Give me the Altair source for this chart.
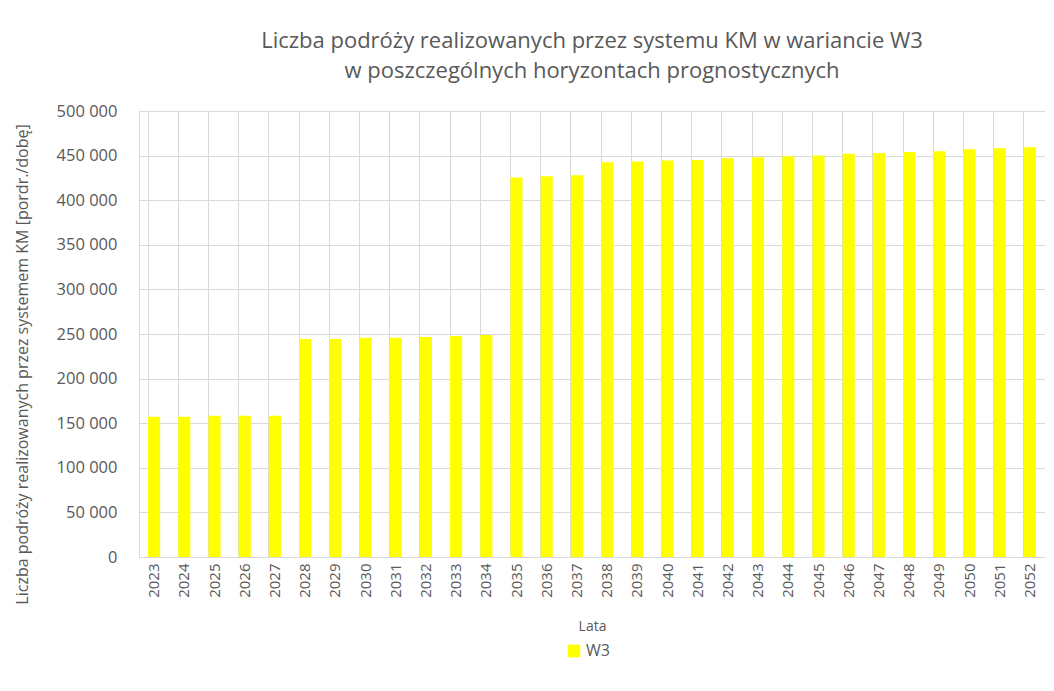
import altair as alt
import pandas as pd

years = [str(y) for y in range(2023, 2053)]
values = [157300, 157300, 158400, 158400, 158400,
          244300, 244300, 245800, 245800, 246600, 247700, 248800,
          425400, 426900, 428000, 442500, 443300, 444400, 445100, 447000, 448100,
          449200, 450000, 452200, 452900, 454000, 454800, 457100, 458200, 459300]
series = ["W3"] * len(years)

df = pd.DataFrame({"Rok": years, "Wartosc": values, "Seria": series})

FONT = "Open Sans"
GREY = "#595959"

chart = alt.Chart(df).mark_bar().encode(
    x=alt.X("Rok:N", title="Lata", sort=years,
            scale=alt.Scale(paddingInner=0.6, paddingOuter=0.3),
            axis=alt.Axis(labelAngle=-90, grid=True, bandPosition=0, ticks=False,
                          labelFontSize=15, titleFontSize=14, labelColor=GREY, titleColor=GREY,
                          titleFontWeight="normal",
                          gridColor="#d9d9d9", domainColor="#d9d9d9", labelPadding=6,
                          labelBaseline="middle", labelAlign="right", titlePadding=22)),
    y=alt.Y("Wartosc:Q", title="Liczba podróży realizowanych  przez systemem KM [pordr./dobę]",
            scale=alt.Scale(domain=[0, 500000]),
            axis=alt.Axis(values=list(range(0, 500001, 50000)),
                          labelExpr="replace(format(datum.value, ',d'), ',', ' ')",
                          grid=True, gridColor="#d9d9d9", domain=False, ticks=False,
                          labelFontSize=16.5, titleFontSize=16, labelColor=GREY, titleColor=GREY,
                          titleFontWeight="normal", titleY=253,
                          labelPadding=22, titlePadding=26)),
    color=alt.Color("Seria:N", scale=alt.Scale(domain=["W3"], range=["#FFFF00"]),
                    legend=alt.Legend(orient="none", legendX=427, legendY=532, title=None,
                                      symbolType="square", symbolSize=160, labelFontSize=16,
                                      labelColor=GREY, symbolStrokeWidth=0)),
).properties(
    width=906, height=446,
    title=alt.TitleParams(
        text=["Liczba podróży realizowanych przez systemu KM w wariancie W3",
              "w poszczególnych horyzontach prognostycznych"],
        fontSize=22, fontWeight="normal", color=GREY, anchor="middle", lineHeight=30,
        offset=20, font=FONT),
    padding={"left": 6, "top": 22, "right": 0, "bottom": 4},
).configure(font=FONT, background="white").configure_view(stroke="#d9d9d9")

chart.save("out.html", embed_options={"renderer": "svg", "actions": False})
